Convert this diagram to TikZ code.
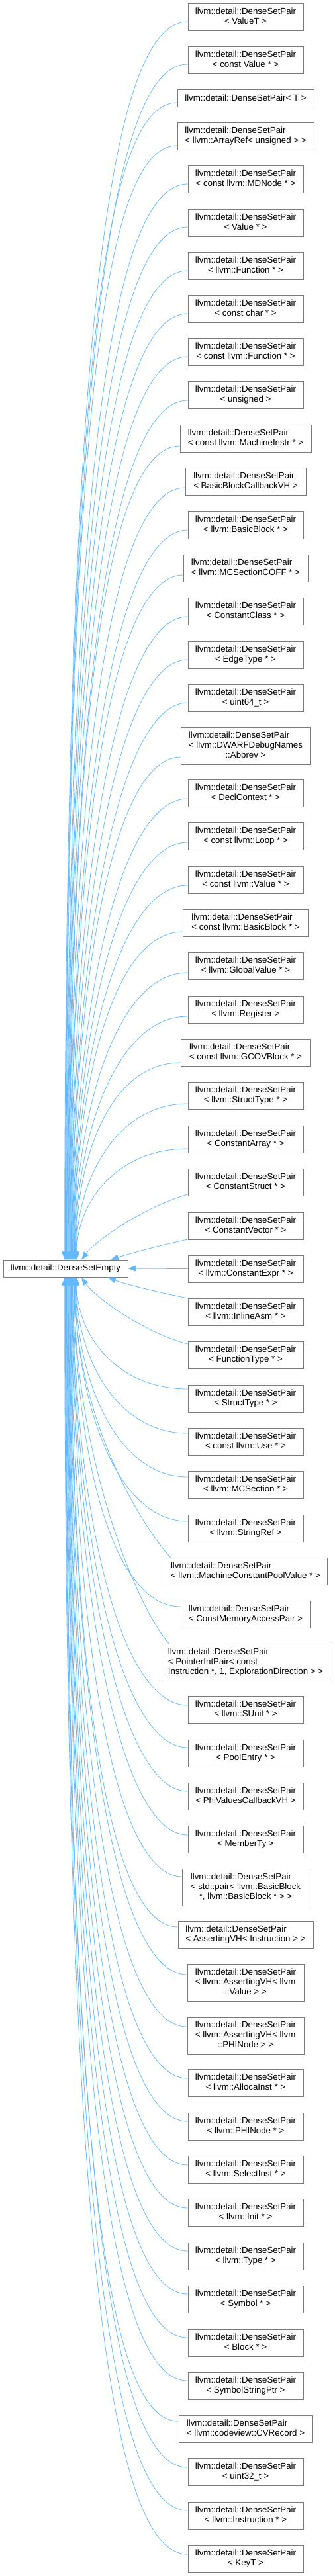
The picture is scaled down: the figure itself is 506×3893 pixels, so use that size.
\documentclass[tikz,border=0pt]{standalone}
\usepackage{fontspec}
\setmainfont{Liberation Sans}
\usetikzlibrary{arrows.meta,calc}
\definecolor{edgec}{HTML}{63B8FF}
\definecolor{bord}{HTML}{7A7A7A}
\newcommand\DSP{llvm::detail::DenseSetPair}
\newcommand\twol[2]{\begin{tabular}{@{}l@{}}#1\\\multicolumn{1}{@{}c@{}}{#2}\end{tabular}}
\newcommand\thrl[3]{\begin{tabular}{@{}l@{}}#1\\#2\\\multicolumn{1}{@{}c@{}}{#3}\end{tabular}}
\begin{document}
\begin{tikzpicture}[x=1pt,y=-1pt,
  box/.style={draw=bord,fill=white,line width=0.9pt,inner sep=0pt,align=center,font=\fontsize{13.3}{15}\selectfont},
  std/.style={box,minimum width=174,minimum height=41},
  inh/.style={draw=edgec,line width=0.8pt,<-},
  >={Triangle[length=12pt,width=9pt]}]
\useasboundingbox (0,0) rectangle (506,3893);
\node[box,minimum width=188,minimum height=26] (base) at (99,1917) {llvm::detail::DenseSetEmpty};
\node[std] (n1) at (371,25.5) {\twol{\DSP}{< ValueT >}};
\node[std] (n2) at (371,91) {\twol{\DSP}{< const Value * >}};
\node[box,minimum width=206,minimum height=26] (n3) at (371,148) {\DSP< T >};
\node[box,minimum width=206,minimum height=41] (n4) at (371,205.5) {\twol{\DSP}{< llvm::ArrayRef< unsigned > >}};
\node[std] (n5) at (371,271) {\twol{\DSP}{< const llvm::MDNode * >}};
\node[std] (n6) at (371,336.5) {\twol{\DSP}{< Value * >}};
\node[std] (n7) at (371,401.7) {\twol{\DSP}{< llvm::Function * >}};
\node[std] (n8) at (371,466.8) {\twol{\DSP}{< const char * >}};
\node[std] (n9) at (371,532) {\twol{\DSP}{< const llvm::Function * >}};
\node[std] (n10) at (371,597.3) {\twol{\DSP}{< unsigned >}};
\node[box,minimum width=198,minimum height=41] (n11) at (371,662.5) {\twol{\DSP}{< const llvm::MachineInstr * >}};
\node[box,minimum width=182,minimum height=41] (n12) at (371,728.2) {\twol{\DSP}{< BasicBlockCallbackVH >}};
\node[std] (n13) at (371,793.5) {\twol{\DSP}{< llvm::BasicBlock * >}};
\node[box,minimum width=188,minimum height=41] (n14) at (371,858.5) {\twol{\DSP}{< llvm::MCSectionCOFF * >}};
\node[std] (n15) at (371,924.2) {\twol{\DSP}{< ConstantClass * >}};
\node[std] (n16) at (371,989.5) {\twol{\DSP}{< EdgeType * >}};
\node[std] (n17) at (371,1054.5) {\twol{\DSP}{< uint64\_t >}};
\node[box,minimum width=195,minimum height=56] (n18) at (371,1127) {\thrl{\DSP}{< llvm::DWARFDebugNames}{::Abbrev >}};
\node[std] (n19) at (371,1198.5) {\twol{\DSP}{< DeclContext * >}};
\node[std] (n20) at (371,1263.5) {\twol{\DSP}{< const llvm::Loop * >}};
\node[std] (n21) at (371,1329.5) {\twol{\DSP}{< const llvm::Value * >}};
\node[box,minimum width=189,minimum height=41] (n22) at (371,1394.5) {\twol{\DSP}{< const llvm::BasicBlock * >}};
\node[std] (n23) at (371,1460) {\twol{\DSP}{< llvm::GlobalValue * >}};
\node[std] (n24) at (371,1525.5) {\twol{\DSP}{< llvm::Register >}};
\node[box,minimum width=195,minimum height=41] (n25) at (371,1591) {\twol{\DSP}{< const llvm::GCOVBlock * >}};
\node[std] (n26) at (371,1656) {\twol{\DSP}{< llvm::StructType * >}};
\node[std] (n27) at (371,1721.5) {\twol{\DSP}{< ConstantArray * >}};
\node[std] (n28) at (371,1786.5) {\twol{\DSP}{< ConstantStruct * >}};
\node[std] (n29) at (371,1852.5) {\twol{\DSP}{< ConstantVector * >}};
\node[std] (n30) at (371,1917.5) {\twol{\DSP}{< llvm::ConstantExpr * >}};
\node[std] (n31) at (371,1982.5) {\twol{\DSP}{< llvm::InlineAsm * >}};
\node[std] (n32) at (371,2047.5) {\twol{\DSP}{< FunctionType * >}};
\node[std] (n33) at (371,2113.5) {\twol{\DSP}{< StructType * >}};
\node[std] (n34) at (371,2179) {\twol{\DSP}{< const llvm::Use * >}};
\node[std] (n35) at (371,2244) {\twol{\DSP}{< llvm::MCSection * >}};
\node[std] (n36) at (371,2309.5) {\twol{\DSP}{< llvm::StringRef >}};
\node[box,minimum width=247,minimum height=41] (n37) at (371,2375) {\twol{\DSP}{< llvm::MachineConstantPoolValue * >}};
\node[box,minimum width=195,minimum height=41] (n38) at (371,2440) {\twol{\DSP}{< ConstMemoryAccessPair >}};
\node[box,minimum width=260,minimum height=56] (n39) at (371,2512) {\thrl{\DSP}{< PointerIntPair< const}{ Instruction *, 1, ExplorationDirection > >}};
\node[std] (n40) at (371,2584) {\twol{\DSP}{< llvm::SUnit * >}};
\node[std] (n41) at (371,2649.5) {\twol{\DSP}{< PoolEntry * >}};
\node[std] (n42) at (371,2714.5) {\twol{\DSP}{< PhiValuesCallbackVH >}};
\node[std] (n43) at (371,2780) {\twol{\DSP}{< MemberTy >}};
\node[box,minimum width=191,minimum height=56] (n44) at (371,2852) {\thrl{\DSP}{< std::pair< llvm::BasicBlock}{ *, llvm::BasicBlock * > >}};
\node[box,minimum width=204,minimum height=41] (n45) at (371,2924) {\twol{\DSP}{< AssertingVH< Instruction > >}};
\node[box,minimum width=176,minimum height=56] (n46) at (371,2996) {\thrl{\DSP}{< llvm::AssertingVH< llvm}{::Value > >}};
\node[box,minimum width=176,minimum height=56] (n47) at (371,3076) {\thrl{\DSP}{< llvm::AssertingVH< llvm}{::PHINode > >}};
\node[std] (n48) at (371,3148) {\twol{\DSP}{< llvm::AllocaInst * >}};
\node[std] (n49) at (371,3213.5) {\twol{\DSP}{< llvm::PHINode * >}};
\node[std] (n50) at (371,3279) {\twol{\DSP}{< llvm::SelectInst * >}};
\node[std] (n51) at (371,3344) {\twol{\DSP}{< llvm::Init * >}};
\node[std] (n52) at (371,3409.5) {\twol{\DSP}{< llvm::Type * >}};
\node[std] (n53) at (371,3475) {\twol{\DSP}{< Symbol * >}};
\node[std] (n54) at (371,3540.5) {\twol{\DSP}{< Block * >}};
\node[std] (n55) at (371,3605.5) {\twol{\DSP}{< SymbolStringPtr >}};
\node[box,minimum width=202,minimum height=41] (n56) at (371,3671) {\twol{\DSP}{< llvm::codeview::CVRecord >}};
\node[std] (n57) at (371,3736) {\twol{\DSP}{< uint32\_t >}};
\node[std] (n58) at (371,3801.5) {\twol{\DSP}{< llvm::Instruction * >}};
\node[std] (n59) at (371,3867) {\twol{\DSP}{< KeyT >}};
% upper edges
\foreach \i/\off/\ex/\ey in {1/7.5/284/33,2/6/284/97,3/7/268/155,4/14.5/268/220,5/7/284/278,6/6.5/284/343,7/7.3/284/409,8/7.2/284/474,9/7/284/539,10/7.7/284/605,11/11.5/272/674,12/8.8/280/737,13/7.5/284/801,14/10.5/277/869,15/7.8/284/932,16/7.5/284/997,17/7.5/284/1062,18/17/273.5/1144,19/8.5/284/1207,20/9.5/284/1273,21/8.5/284/1338,22/13.5/277/1408,23/10/284/1470,24/10.5/284/1536,25/15/273.5/1606,26/12/284/1668,27/14.5/284/1736}{
  \pgfmathsetmacro\sx{97+0.7*\i}
  \pgfmathsetmacro\cay{\ey+min(0.5*(1904-\ey),400)}
  \pgfmathsetmacro\cbx{\ex-110}
  \draw[inh] ($(base.north)+(\sx-99,0)$) .. controls (\sx,\cay) and (\cbx,\ey) .. ($(n\i.west)+(0,\off)$);
}
% lower edges
\foreach \i/\off/\ex/\ey in {33/-14.5/284/2099,34/-13/284/2166,35/-12/284/2232,36/-10.5/284/2299,38/-12/274/2428,40/-7/284/2577,41/-8.5/284/2641,42/-7.5/284/2707,43/-7/284/2773,44/-16/275.5/2836,45/-12/269/2912,46/-12/283/2984,47/-13/283/3063,48/-7/284/3141,49/-7.5/284/3206,50/-7/284/3272,51/-7/284/3337,52/-7.5/284/3402,53/-8/284/3467,54/-7.5/284/3533,55/-7.5/284/3598,56/-12/271/3659,57/-7/284/3729,58/-7.5/284/3794,59/-7/284/3860}{
  \pgfmathsetmacro\sx{97+0.7*(60-\i)}
  \pgfmathsetmacro\cay{\ey-min(0.5*(\ey-1930),400)}
  \pgfmathsetmacro\cbx{\ex-110}
  \draw[inh] ($(base.south)+(\sx-99,0)$) .. controls (\sx,\cay) and (\cbx,\ey) .. ($(n\i.west)+(0,\off)$);
}
% special edges
\draw[inh] ($(base.north)+(24,0)$) .. controls (145,1875) and (215,1825) .. ($(n28.west)+(0,18.5)$);
\draw[inh] ($(base.north)+(68,0)$) .. controls (200,1893) and (250,1880) .. ($(n29.west)+(0,20.5)$);
\draw[inh] (base.east) -- (n30.west);
\draw[inh] ($(base.south)+(64,0)$) .. controls (195,1943) and (250,1955) .. ($(n31.west)+(0,-20.5)$);
\draw[inh] ($(base.south)+(24,0)$) .. controls (145,1962) and (220,2015) .. ($(n32.west)+(0,-16.5)$);
\draw[inh] ($(base.south)+(14,0)$) .. controls (113,2143) and (213,2305) .. ($(n37.north)+(-113,0)$);
\draw[inh] ($(base.south)+(13,0)$) .. controls (112,2207) and (210,2434) .. ($(n39.north)+(-116,0)$);
\end{tikzpicture}
\end{document}
